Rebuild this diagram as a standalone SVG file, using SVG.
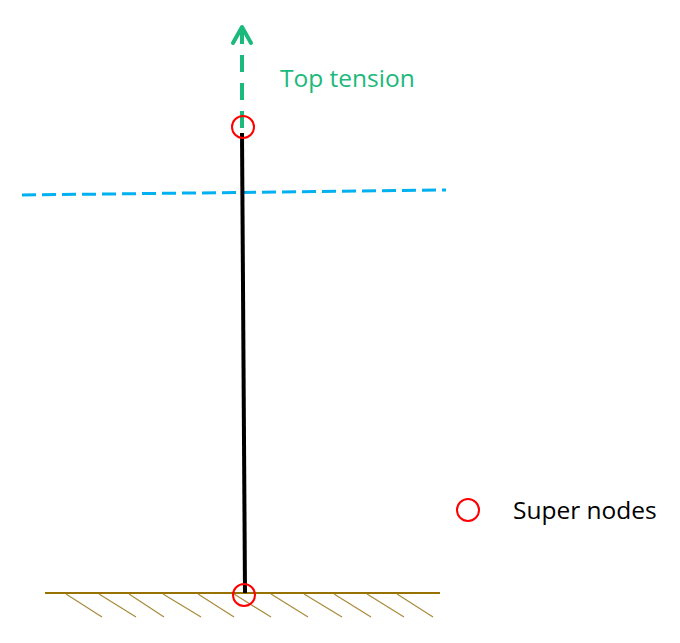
<svg xmlns="http://www.w3.org/2000/svg" width="680" height="643" viewBox="0 0 680 643">
<style>
.node{fill:none;stroke:#ff0000;stroke-width:2}
.hatch{stroke:#a88a3a;stroke-width:1.2}
.lbl{font-family:"Open Sans","Noto Sans",sans-serif;font-size:24.5px}
</style>
<rect width="680" height="643" fill="#ffffff"/>
<g id="waterline">
<line x1="22" y1="195" x2="446" y2="190" stroke="#00b0f0" stroke-width="3" stroke-dasharray="14,6"/>
</g>
<g id="seabed">
<line x1="45" y1="593" x2="440" y2="593" stroke="#987200" stroke-width="2"/>
<g class="hatch">
<line x1="66" y1="594" x2="102" y2="617"/>
<line x1="99" y1="594" x2="136" y2="617"/>
<line x1="129" y1="594" x2="164" y2="617"/>
<line x1="163" y1="594" x2="201" y2="617"/>
<line x1="198" y1="594" x2="234" y2="617"/>
<line x1="234" y1="594" x2="271" y2="617"/>
<line x1="271" y1="594" x2="308" y2="617"/>
<line x1="304" y1="594" x2="342" y2="617"/>
<line x1="334" y1="594" x2="371" y2="617"/>
<line x1="367" y1="594" x2="404" y2="617"/>
<line x1="397" y1="594" x2="433" y2="617"/>
</g>
</g>
<g id="connectors">
<line id="riser" x1="242" y1="133" x2="245" y2="593" stroke="#000000" stroke-width="4"/>
<g id="top-tension" stroke="#1bb97b" stroke-width="4" fill="none">
<line x1="242" y1="128" x2="242" y2="29" stroke-dasharray="17,11"/>
<polyline points="233,43 242,27 251,43" stroke-linecap="round" stroke-linejoin="round"/>
</g>
</g>
<g id="top-node"><circle class="node" cx="243" cy="127" r="11"/></g>
<g id="bottom-node"><circle class="node" cx="244" cy="595" r="11"/></g>
<g id="top-tension-label"><text class="lbl" x="280" y="87" fill="#1bb97b">Top tension</text></g>
<g id="legend">
<circle class="node" cx="468" cy="510" r="11"/>
<text class="lbl" x="513" y="519" fill="#000000">Super nodes</text>
</g>
</svg>
